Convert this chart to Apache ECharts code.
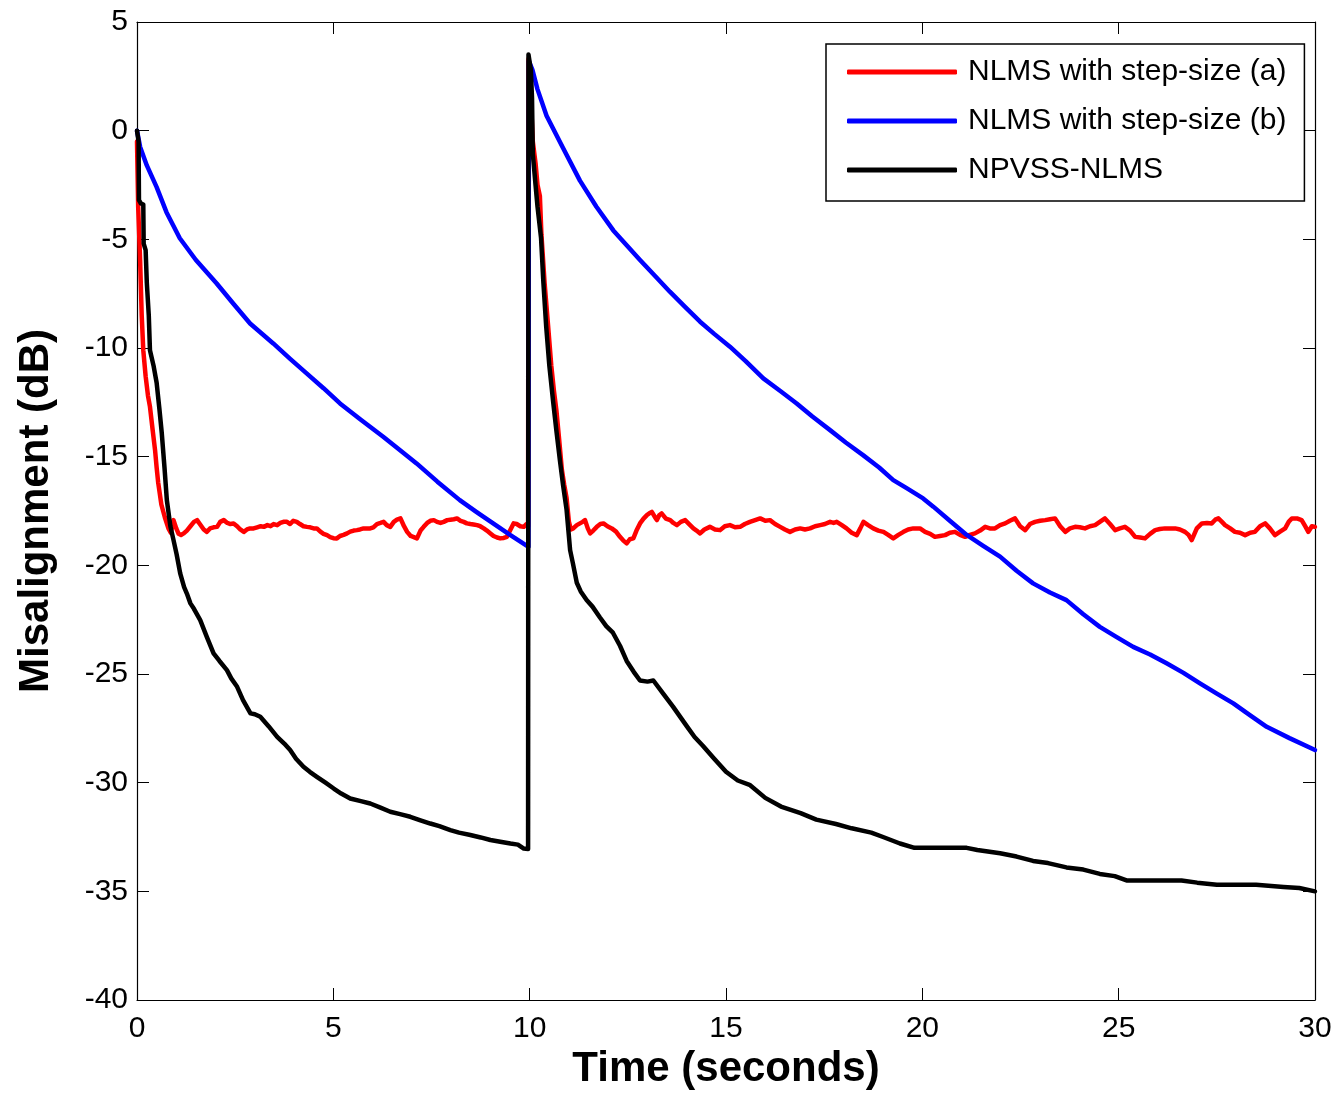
<!DOCTYPE html>
<html>
<head>
<meta charset="utf-8">
<title>Misalignment</title>
<script src="https://cdn.jsdelivr.net/npm/echarts@6/dist/echarts.min.js"></script>
<style>
    html, body { margin: 0; padding: 0; background: #fff; }
    #chart { width: 1340px; height: 1108px; }
</style>
</head>
<body>
<div id="chart"></div>
<script>
const xTicks = [0, 5, 10, 15, 20, 25, 30];
const yTicks = [5, 0, -5, -10, -15, -20, -25, -30, -35, -40];
const seriesNames = ["NLMS with step-size (a)", "NLMS with step-size (b)", "NPVSS-NLMS"];

// [time (s), misalignment (dB)]
const nlmsA = [
    [0, -0.5], [0.03, -3.5], [0.08, -6], [0.12, -8.5], [0.16, -10.1], [0.22, -11.3], [0.28, -12.2], [0.33, -12.7],
    [0.4, -13.8], [0.46, -14.7], [0.5, -15.5], [0.54, -16.2], [0.62, -17.2], [0.71, -17.8], [0.8, -18.3], [0.86, -18.5],
    [0.93, -17.92], [1.0, -18.3], [1.06, -18.55], [1.12, -18.6], [1.19, -18.53], [1.27, -18.4], [1.36, -18.2], [1.45, -18.0],
    [1.53, -17.92], [1.6, -18.1], [1.7, -18.35], [1.78, -18.46], [1.86, -18.3], [1.95, -18.25], [2.04, -18.23], [2.12, -18.0],
    [2.21, -17.92], [2.3, -18.05], [2.38, -18.1], [2.46, -18.07], [2.55, -18.2], [2.63, -18.35], [2.72, -18.46], [2.8, -18.35],
    [2.88, -18.3], [2.97, -18.3], [3.06, -18.25], [3.15, -18.2], [3.23, -18.23], [3.32, -18.15], [3.4, -18.2], [3.48, -18.1],
    [3.57, -18.15], [3.65, -18.05], [3.73, -18.0], [3.82, -18.0], [3.9, -18.1], [3.98, -17.95], [4.07, -18.0], [4.15, -18.1],
    [4.24, -18.2], [4.33, -18.23], [4.41, -18.25], [4.5, -18.3], [4.58, -18.3], [4.67, -18.45], [4.75, -18.55], [4.84, -18.61],
    [4.92, -18.7], [5.0, -18.75], [5.09, -18.76], [5.17, -18.65], [5.26, -18.6], [5.35, -18.53], [5.43, -18.45], [5.52, -18.4],
    [5.6, -18.38], [5.68, -18.35], [5.77, -18.3], [5.85, -18.3], [5.94, -18.3], [6.02, -18.25], [6.11, -18.1], [6.2, -18.05],
    [6.28, -18.0], [6.36, -18.15], [6.45, -18.23], [6.54, -18.0], [6.62, -17.9], [6.71, -17.84], [6.8, -18.2], [6.88, -18.46],
    [6.97, -18.65], [7.05, -18.7], [7.13, -18.76], [7.22, -18.4], [7.3, -18.23], [7.39, -18.05], [7.47, -17.95], [7.56, -17.92],
    [7.64, -18.0], [7.73, -18.05], [7.81, -18.0], [7.9, -17.92], [7.98, -17.9], [8.07, -17.88], [8.15, -17.84], [8.24, -17.95],
    [8.32, -18.0], [8.4, -18.07], [8.49, -18.1], [8.57, -18.12], [8.66, -18.15], [8.74, -18.2], [8.83, -18.3], [8.91, -18.4],
    [9.0, -18.53], [9.08, -18.65], [9.17, -18.72], [9.25, -18.76], [9.34, -18.74], [9.42, -18.69], [9.5, -18.4], [9.59, -18.07],
    [9.67, -18.1], [9.76, -18.2], [9.85, -18.23], [9.92, -18.1], [9.96, -18.2], [9.97, 3.3],
    [10.03, 1.5], [10.08, -0.5], [10.15, -1.5], [10.2, -2.5], [10.26, -3.0], [10.3, -4.8], [10.38, -7.0], [10.47, -9.0],
    [10.55, -10.8], [10.62, -12.0], [10.68, -12.85], [10.75, -14.2], [10.82, -15.6], [10.88, -16.3], [10.94, -16.9], [11.0, -18.0],
    [11.05, -18.35], [11.11, -18.3], [11.2, -18.15], [11.28, -18.07], [11.35, -18.0], [11.41, -17.92], [11.48, -18.3], [11.54, -18.53],
    [11.62, -18.4], [11.71, -18.23], [11.8, -18.1], [11.88, -18.07], [11.98, -18.2], [12.09, -18.3], [12.2, -18.45], [12.3, -18.69],
    [12.38, -18.85], [12.47, -18.99], [12.55, -18.8], [12.64, -18.76], [12.72, -18.4], [12.81, -18.07], [12.9, -17.85], [12.98, -17.7],
    [13.05, -17.6], [13.11, -17.54], [13.18, -17.75], [13.24, -17.92], [13.3, -17.7], [13.36, -17.61], [13.47, -17.85], [13.58, -17.92],
    [13.66, -18.05], [13.75, -18.15], [13.85, -18.0], [13.96, -17.92], [14.06, -18.1], [14.17, -18.3], [14.25, -18.4], [14.34, -18.53],
    [14.45, -18.35], [14.59, -18.23], [14.72, -18.35], [14.85, -18.38], [14.97, -18.2], [15.1, -18.15], [15.23, -18.25], [15.36, -18.23],
    [15.48, -18.1], [15.61, -18.0], [15.74, -17.92], [15.87, -17.84], [16.0, -17.95], [16.12, -17.92], [16.25, -18.1], [16.38, -18.23],
    [16.5, -18.35], [16.63, -18.46], [16.76, -18.35], [16.89, -18.3], [17.01, -18.35], [17.14, -18.3], [17.27, -18.2], [17.4, -18.15],
    [17.52, -18.1], [17.65, -18.0], [17.74, -18.05], [17.82, -18.0], [17.95, -18.15], [18.07, -18.3], [18.2, -18.5], [18.33, -18.61],
    [18.42, -18.3], [18.5, -18.0], [18.62, -18.15], [18.75, -18.3], [18.88, -18.4], [19.01, -18.46], [19.13, -18.6], [19.26, -18.76],
    [19.39, -18.6], [19.52, -18.46], [19.64, -18.35], [19.77, -18.3], [19.94, -18.3], [20.07, -18.46], [20.2, -18.55], [20.32, -18.69],
    [20.45, -18.65], [20.58, -18.61], [20.7, -18.5], [20.83, -18.46], [20.96, -18.6], [21.09, -18.69], [21.21, -18.6], [21.34, -18.53],
    [21.47, -18.4], [21.6, -18.23], [21.72, -18.3], [21.85, -18.3], [21.98, -18.15], [22.11, -18.07], [22.23, -17.95], [22.36, -17.84],
    [22.49, -18.2], [22.62, -18.38], [22.74, -18.1], [22.87, -18.0], [23.0, -17.95], [23.13, -17.92], [23.25, -17.88], [23.38, -17.84],
    [23.51, -18.2], [23.64, -18.46], [23.76, -18.3], [23.89, -18.23], [24.01, -18.25], [24.14, -18.3], [24.27, -18.2], [24.4, -18.15],
    [24.52, -18.0], [24.65, -17.84], [24.78, -18.1], [24.91, -18.38], [25.03, -18.3], [25.16, -18.23], [25.29, -18.4], [25.42, -18.69],
    [25.55, -18.72], [25.67, -18.76], [25.8, -18.55], [25.93, -18.38], [26.05, -18.33], [26.18, -18.3], [26.31, -18.3], [26.44, -18.3],
    [26.56, -18.35], [26.69, -18.46], [26.78, -18.6], [26.86, -18.84], [26.99, -18.3], [27.12, -18.07], [27.25, -18.05], [27.37, -18.07],
    [27.46, -17.9], [27.54, -17.84], [27.63, -18.0], [27.71, -18.15], [27.84, -18.3], [27.96, -18.46], [28.09, -18.5], [28.22, -18.61],
    [28.35, -18.5], [28.47, -18.46], [28.6, -18.2], [28.73, -18.07], [28.85, -18.3], [28.98, -18.61], [29.11, -18.45], [29.24, -18.3],
    [29.33, -18.0], [29.41, -17.84], [29.54, -17.84], [29.66, -17.92], [29.75, -18.2], [29.83, -18.46], [29.92, -18.2], [30.0, -18.23]
];

const nlmsB = [
    [0, 0], [0.08, -0.75], [0.25, -1.6], [0.5, -2.6], [0.75, -3.75], [1.09, -4.95], [1.5, -5.95], [2.03, -7.03],
    [2.45, -7.95], [2.88, -8.87], [3.47, -9.79], [3.9, -10.5], [4.32, -11.17], [4.75, -11.85], [5.17, -12.55], [5.7, -13.3],
    [6.27, -14.08], [6.7, -14.7], [7.12, -15.31], [7.65, -16.15], [8.22, -17.0], [8.65, -17.55], [9.07, -18.07], [9.5, -18.6],
    [9.97, -19.15], [9.98, 3.2], [10.07, 2.8], [10.2, 1.9], [10.43, 0.69], [10.85, -0.8], [11.28, -2.3], [11.7, -3.5],
    [12.13, -4.59], [12.81, -5.95], [13.2, -6.7], [13.57, -7.41], [13.95, -8.1], [14.34, -8.79], [14.7, -9.35], [15.1, -9.94],
    [15.5, -10.6], [15.95, -11.4], [16.4, -12.0], [16.8, -12.55], [17.2, -13.15], [17.65, -13.78], [18.05, -14.35], [18.49, -14.93],
    [18.9, -15.5], [19.26, -16.08], [19.6, -16.45], [20.02, -16.92], [20.28, -17.3], [20.7, -17.95], [21.13, -18.6], [21.55, -19.1],
    [21.98, -19.6], [22.4, -20.25], [22.82, -20.83], [23.25, -21.25], [23.67, -21.6], [24.1, -22.25], [24.52, -22.83], [24.95, -23.3],
    [25.37, -23.75], [25.8, -24.1], [26.22, -24.51], [26.65, -24.95], [27.07, -25.43], [27.5, -25.9], [27.92, -26.35], [28.35, -26.9],
    [28.77, -27.43], [29.35, -27.95], [30.0, -28.5]
];

const npvss = [
    [0, 0], [0.04, -0.5], [0.05, -3.2], [0.1, -3.35], [0.16, -3.4], [0.17, -5.2], [0.22, -5.5], [0.25, -7.0],
    [0.3, -8.5], [0.33, -10.1], [0.42, -10.8], [0.5, -11.6], [0.57, -12.8], [0.63, -13.9], [0.7, -15.5], [0.76, -17.0],
    [0.85, -18.2], [0.93, -18.84], [1.01, -19.5], [1.1, -20.37], [1.2, -21.0], [1.27, -21.3], [1.36, -21.75], [1.45, -22.0],
    [1.61, -22.52], [1.78, -23.3], [1.95, -24.05], [2.1, -24.4], [2.29, -24.82], [2.4, -25.2], [2.55, -25.59], [2.7, -26.2],
    [2.89, -26.81], [3.0, -26.85], [3.14, -26.97], [3.35, -27.4], [3.57, -27.89], [3.75, -28.2], [3.9, -28.5], [4.05, -28.9],
    [4.24, -29.27], [4.4, -29.5], [4.58, -29.73], [4.8, -30.0], [5.01, -30.27], [5.2, -30.5], [5.43, -30.73], [5.7, -30.85],
    [5.94, -30.96], [6.2, -31.15], [6.45, -31.34], [6.7, -31.45], [6.96, -31.57], [7.2, -31.72], [7.47, -31.88], [7.7, -32.0],
    [7.98, -32.18], [8.2, -32.3], [8.49, -32.41], [8.75, -32.52], [9.0, -32.64], [9.25, -32.72], [9.51, -32.8], [9.7, -32.85],
    [9.85, -33.03], [9.96, -33.05], [9.97, 3.5], [10.0, 3.5], [10.03, 2.8], [10.06, 1.5], [10.08, -1.07], [10.15, -2.5],
    [10.2, -3.5], [10.29, -4.94], [10.35, -7.0], [10.42, -8.99], [10.5, -10.8], [10.6, -12.51], [10.68, -13.8], [10.77, -15.16],
    [10.85, -16.3], [10.94, -17.44], [11.03, -19.3], [11.1, -19.9], [11.2, -20.8], [11.3, -21.2], [11.45, -21.6], [11.6, -21.9],
    [11.79, -22.4], [11.95, -22.8], [12.12, -23.1], [12.3, -23.7], [12.47, -24.4], [12.65, -24.9], [12.81, -25.3], [13.0, -25.35],
    [13.15, -25.3], [13.4, -25.9], [13.65, -26.5], [14.0, -27.4], [14.2, -27.9], [14.41, -28.3], [14.7, -28.9], [15.0, -29.5],
    [15.3, -29.9], [15.6, -30.1], [16.0, -30.7], [16.4, -31.1], [16.9, -31.4], [17.3, -31.7], [17.8, -31.9], [18.2, -32.1],
    [18.7, -32.3], [19.0, -32.5], [19.43, -32.8], [19.8, -33.0], [20.5, -33.0], [21.13, -33.0], [21.4, -33.1], [21.98, -33.25],
    [22.4, -33.4], [22.82, -33.6], [23.2, -33.7], [23.67, -33.9], [24.1, -34.0], [24.52, -34.2], [24.9, -34.3], [25.2, -34.5],
    [26.0, -34.5], [26.6, -34.5], [27.0, -34.6], [27.5, -34.7], [28.5, -34.7], [29.2, -34.8], [29.6, -34.85], [30.0, -35.0]
];

const seriesColors = ["#ff0000", "#0000ff", "#000000"];
const fontStack = 'Arial, "Liberation Sans", Helvetica, sans-serif';

function initChart() {
    const chart = echarts.init(document.getElementById("chart"));

    const tickStyle = { show: true, inside: true, length: 12, lineStyle: { color: "#000", width: 1 } };
    const lineStyle = { show: true, onZero: false, lineStyle: { color: "#000", width: 1.2 } };
    const labelStyle = { color: "#000", fontSize: 30, fontFamily: fontStack };
    const nameStyle = { color: "#000", fontSize: 42, fontWeight: "bold", fontFamily: fontStack };

    const xBase = { type: "value", min: xTicks[0], max: xTicks[xTicks.length - 1], interval: 5, splitLine: { show: false } };
    const yBase = { type: "value", min: yTicks[yTicks.length - 1], max: yTicks[0], interval: 5, splitLine: { show: false } };

    const option = {
        animation: false,
        backgroundColor: "#fff",
        grid: { left: 137, right: 25, top: 22, bottom: 108 },
        legend: {
            orient: "vertical",
            left: 826,
            top: 44,
            padding: [13, 18, 16, 21],
            itemGap: 19,
            itemWidth: 110,
            itemHeight: 5,
            icon: "roundRect",
            borderColor: "#000",
            borderWidth: 1.5,
            backgroundColor: "#fff",
            textStyle: { color: "#000", fontSize: 30, lineHeight: 30, fontFamily: fontStack, padding: [0, 0, 0, 6] },
            data: seriesNames
        },
        xAxis: [
            Object.assign({}, xBase, {
                position: "bottom",
                name: "Time (seconds)",
                nameLocation: "middle",
                nameGap: 42,
                nameTextStyle: nameStyle,
                axisLine: lineStyle,
                axisTick: tickStyle,
                axisLabel: Object.assign({ margin: 14 }, labelStyle)
            }),
            Object.assign({}, xBase, {
                position: "top",
                axisLine: lineStyle,
                axisTick: tickStyle,
                axisLabel: { show: false }
            })
        ],
        yAxis: [
            Object.assign({}, yBase, {
                position: "left",
                name: "Misalignment (dB)",
                nameLocation: "middle",
                nameGap: 80,
                nameTextStyle: nameStyle,
                axisLine: lineStyle,
                axisTick: tickStyle,
                axisLabel: Object.assign({ margin: 9 }, labelStyle)
            }),
            Object.assign({}, yBase, {
                position: "right",
                axisLine: lineStyle,
                axisTick: tickStyle,
                axisLabel: { show: false }
            })
        ],
        series: [nlmsA, nlmsB, npvss].map((data, i) => ({
            name: seriesNames[i],
            type: "line",
            data: data,
            symbol: "none",
            showSymbol: false,
            clip: true,
            color: seriesColors[i],
            itemStyle: { color: seriesColors[i] },
            lineStyle: { color: seriesColors[i], width: 4.5, cap: "round", join: "round" },
            z: 2 + i
        }))
    };

    chart.setOption(option);
}

document.addEventListener("DOMContentLoaded", initChart);
</script>
</body>
</html>
